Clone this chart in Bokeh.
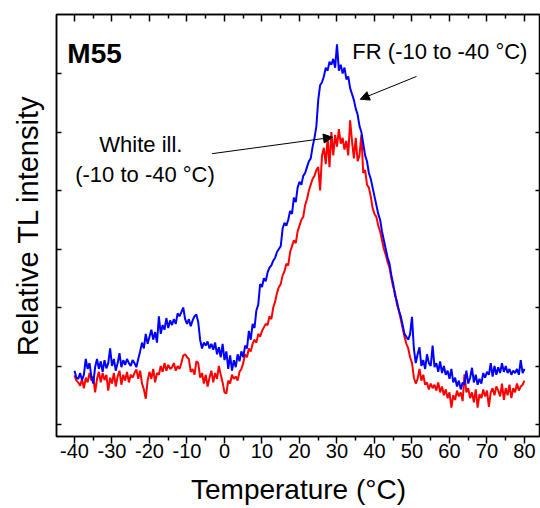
import numpy as np
from bokeh.plotting import figure
from bokeh.models import FixedTicker, LinearAxis, Label, Arrow, NormalHead, Range1d
from bokeh.embed import file_html
from bokeh.resources import INLINE

# Temperature grid (°C), 0.5 °C sampling
temperature = np.arange(-40, 80.5, 0.5)

# FR (-10 to -40 °C) – blue curve
fr_intensity = [
    0.92, 0.80, 0.78, 0.88, 0.76, 0.85, 1.12, 0.95, 1.05, 0.82,
    0.70, 0.98, 1.12, 0.95, 1.08, 0.90, 1.10, 0.96, 1.05, 1.30,
    1.00, 1.12, 0.92, 1.05, 1.22, 0.98, 1.10, 1.02, 1.12, 1.05,
    1.00, 1.10, 1.05, 0.98, 1.12, 1.25, 1.40, 1.30, 1.55, 1.38,
    1.50, 1.62, 1.45, 1.58, 1.40, 1.85, 1.55, 1.70, 1.62, 1.82,
    1.65, 1.78, 1.70, 1.80, 1.72, 1.90, 1.85, 1.92, 2.00, 1.80,
    1.72, 1.80, 1.68, 1.78, 1.85, 1.88, 1.75, 1.45, 1.30, 1.40,
    1.35, 1.42, 1.30, 1.38, 1.28, 1.40, 1.20, 1.32, 1.15, 1.38,
    1.10, 1.25, 0.95, 1.18, 0.92, 1.10, 0.98, 1.20, 1.08, 1.25,
    1.15, 1.35, 1.30, 1.60, 1.45, 1.72, 1.65, 1.95, 2.05, 2.40,
    2.35, 2.50, 2.45, 2.60, 2.68, 2.72, 2.80, 2.85, 2.95, 3.00,
    3.05, 3.35, 3.45, 3.40, 3.50, 3.65, 3.60, 3.88, 3.80, 4.05,
    4.15, 4.10, 4.25, 4.30, 4.40, 4.50, 4.55, 4.75, 4.90, 5.10,
    5.55, 5.80, 5.85, 5.95, 6.10, 6.05, 6.20, 6.15, 6.25, 6.10,
    6.50, 6.05, 6.15, 6.00, 6.10, 5.90, 5.95, 5.75, 5.65, 5.55,
    5.40, 5.30, 5.10, 5.00, 4.80, 4.60, 4.50, 4.30, 4.20, 4.05,
    3.90, 3.75, 3.60, 3.50, 3.30, 3.15, 3.00, 2.85, 2.75, 2.55,
    2.40, 2.20, 2.10, 1.95, 1.85, 1.70, 1.55, 1.50, 1.45, 1.55,
    1.84, 1.30, 1.05, 1.20, 1.32, 1.00, 1.10, 0.95, 1.20, 1.05,
    1.00, 1.35, 0.98, 1.05, 0.90, 1.08, 0.88, 1.00, 0.85, 0.92,
    0.78, 0.95, 0.72, 0.80, 0.65, 0.75, 0.60, 0.72, 0.68, 0.92,
    0.70, 0.80, 0.97, 0.72, 0.85, 0.68, 0.78, 0.70, 0.88, 0.80,
    0.90, 0.85, 1.05, 0.82, 1.00, 0.85, 0.98, 0.88, 1.05, 0.90,
    1.00, 0.88, 0.95, 0.85, 0.92, 0.88, 0.95, 0.85, 1.10, 0.88,
    0.95,
]

# White ill. (-10 to -40 °C) – red curve
white_intensity = [
    0.84, 0.75, 0.72, 0.66, 0.78, 0.62, 0.80, 0.72, 0.88, 0.75,
    0.82, 0.55, 0.78, 0.90, 0.72, 0.88, 0.76, 0.85, 0.58, 0.80,
    0.70, 0.88, 0.65, 0.82, 0.92, 0.68, 0.85, 0.75, 0.90, 0.72,
    0.85, 0.80, 0.88, 0.94, 0.78, 0.92, 0.70, 0.60, 0.44, 0.75,
    0.90, 0.78, 0.95, 0.72, 0.88, 0.85, 1.00, 0.90, 1.05, 0.92,
    1.02, 0.95, 0.98, 1.05, 0.92, 1.00, 0.95, 1.05, 1.18, 1.20,
    1.15, 1.12, 0.90, 0.95, 0.85, 1.08, 1.05, 0.80, 0.88, 0.70,
    0.85, 0.65, 0.80, 0.92, 0.72, 0.88, 0.78, 1.00, 0.85, 0.72,
    0.55, 0.53, 0.75, 0.70, 0.85, 0.78, 0.82, 0.75, 0.90, 0.95,
    1.05, 1.20, 1.15, 1.30, 1.25, 1.38, 1.45, 1.40, 1.55, 1.50,
    1.60, 1.66, 1.72, 1.70, 1.85, 1.80, 2.00, 2.10, 2.25, 2.35,
    2.40, 2.55, 2.62, 2.75, 2.72, 2.95, 3.05, 3.15, 3.10, 3.30,
    3.40, 3.50, 3.55, 3.75, 3.85, 4.00, 4.10, 4.20, 4.25, 4.35,
    4.40, 4.00, 4.60, 4.73, 4.45, 4.90, 4.40, 5.00, 4.60, 4.95,
    4.75, 5.05, 4.80, 4.90, 4.70, 4.85, 4.60, 5.20, 4.85, 4.55,
    4.90, 4.50, 4.60, 4.95, 4.30, 4.35, 4.10, 4.05, 3.90, 3.70,
    3.60, 3.55, 3.40, 3.30, 3.15, 3.00, 2.90, 2.78, 2.68, 2.50,
    2.35, 2.25, 2.05, 1.95, 1.80, 1.65, 1.50, 1.38, 1.30, 1.15,
    1.05, 0.80, 0.70, 0.78, 0.95, 0.75, 0.85, 0.68, 0.72, 0.60,
    0.70, 0.62, 0.68, 0.58, 0.72, 0.55, 0.65, 0.50, 0.60, 0.45,
    0.55, 0.29, 0.50, 0.42, 0.58, 0.48, 0.55, 0.40, 0.86, 0.55,
    0.62, 0.45, 0.55, 0.38, 0.60, 0.29, 0.52, 0.45, 0.60, 0.48,
    0.58, 0.30, 0.55, 0.62, 0.50, 0.65, 0.58, 0.48, 0.70, 0.42,
    0.62, 0.50, 0.68, 0.45, 0.62, 0.55, 0.70, 0.58, 0.65, 0.68,
    0.75,
]

x_ticks = [-40, -30, -20, -10, 0, 10, 20, 30, 40, 50, 60, 70, 80]
x_tick_labels = ["-40", "-30", "-20", "-10", "0", "10", "20", "30", "40", "50", "60", "70", "80"]
x_minor_ticks = [-45, -35, -25, -15, -5, 5, 15, 25, 35, 45, 55, 65, 75, 85]
y_ticks = [0, 1, 2, 3, 4, 5, 6]

FONT = "Liberation Sans"

p = figure(width=540, height=508, output_backend="svg", toolbar_location=None,
           x_range=Range1d(-44.8, 84.27), y_range=Range1d(-0.205, 7.009),
           min_border_left=56, min_border_right=0, min_border_top=14,
           min_border_bottom=72, background_fill_color="white",
           border_fill_color="white")
p.grid.visible = False
p.outline_line_color = "black"
p.outline_line_width = 1.5

# bottom axis
xa = p.xaxis[0]
xa.ticker = FixedTicker(ticks=x_ticks, minor_ticks=x_minor_ticks)
xa.major_label_overrides = dict(zip(x_ticks, x_tick_labels))
xa.major_tick_out = 7
xa.major_tick_in = 0
xa.minor_tick_out = 4
xa.minor_tick_in = 0
xa.major_tick_line_width = 1.5
xa.minor_tick_line_width = 1.5
xa.axis_line_width = 1.5
xa.major_label_standoff = 0
xa.major_label_text_font = FONT
xa.major_label_text_font_size = "20px"
xa.major_label_text_color = "black"
xa.axis_label = "Temperature (°C)"
xa.axis_label_text_font = FONT
xa.axis_label_text_font_size = "28px"
xa.axis_label_text_font_style = "normal"
xa.axis_label_text_color = "black"
xa.axis_label_standoff = 13

# left axis
ya = p.yaxis[0]
ya.ticker = FixedTicker(ticks=y_ticks, minor_ticks=[])
ya.major_tick_in = 5
ya.major_tick_out = 0
ya.minor_tick_in = 0
ya.minor_tick_out = 0
ya.major_tick_line_width = 1.5
ya.axis_line_width = 1.5
ya.major_label_overrides = {t: "" for t in y_ticks}
ya.major_label_standoff = 0
ya.axis_label = "Relative TL intensity"
ya.axis_label_text_font = FONT
ya.axis_label_text_font_size = "29px"
ya.axis_label_text_font_style = "normal"
ya.axis_label_text_color = "black"
ya.axis_label_standoff = 13

# top axis (ticks only)
top = LinearAxis(ticker=FixedTicker(ticks=x_ticks, minor_ticks=x_minor_ticks),
                 major_tick_in=7, major_tick_out=0, minor_tick_in=4, minor_tick_out=0,
                 major_tick_line_width=1.5, minor_tick_line_width=1.5,
                 axis_line_width=1.5, major_label_overrides={t: "" for t in x_ticks},
                 major_label_standoff=0)
p.add_layout(top, "above")

# right axis (ticks only)
right = LinearAxis(ticker=FixedTicker(ticks=y_ticks, minor_ticks=[]),
                   major_tick_in=5, major_tick_out=0, minor_tick_in=0, minor_tick_out=0,
                   major_tick_line_width=1.5, axis_line_width=1.5,
                   major_label_overrides={t: "" for t in y_ticks},
                   major_label_standoff=0)
p.add_layout(right, "right")

p.line(temperature, white_intensity, line_color="#ff0000", line_width=2)
p.line(temperature, fr_intensity, line_color="#0000ff", line_width=2)

# annotations
p.add_layout(Label(x=-41.9, y=6.34, text="M55", text_font=FONT, text_font_size="28px",
                   text_font_style="bold", text_color="black", text_baseline="alphabetic"))
p.add_layout(Label(x=34.1, y=6.38, text="FR (-10 to -40 °C)", text_font=FONT,
                   text_font_size="22px", text_color="black", text_baseline="alphabetic"))
p.add_layout(Label(x=-22.3, y=4.78, text="White ill.", text_font=FONT,
                   text_font_size="22px", text_color="black", text_align="center",
                   text_baseline="alphabetic"))
p.add_layout(Label(x=-21.2, y=4.27, text="(-10 to -40 °C)", text_font=FONT,
                   text_font_size="22px", text_color="black", text_align="center",
                   text_baseline="alphabetic"))

p.add_layout(Arrow(end=NormalHead(size=9, fill_color="black", line_color="black"),
                   x_start=51.2, y_start=5.95, x_end=36.2, y_end=5.56,
                   line_color="black", line_width=1))
p.add_layout(Arrow(end=NormalHead(size=9, fill_color="black", line_color="black"),
                   x_start=-3.3, y_start=4.63, x_end=28.8, y_end=4.91,
                   line_color="black", line_width=1))

open("out.html", "w").write(file_html(p, INLINE))
